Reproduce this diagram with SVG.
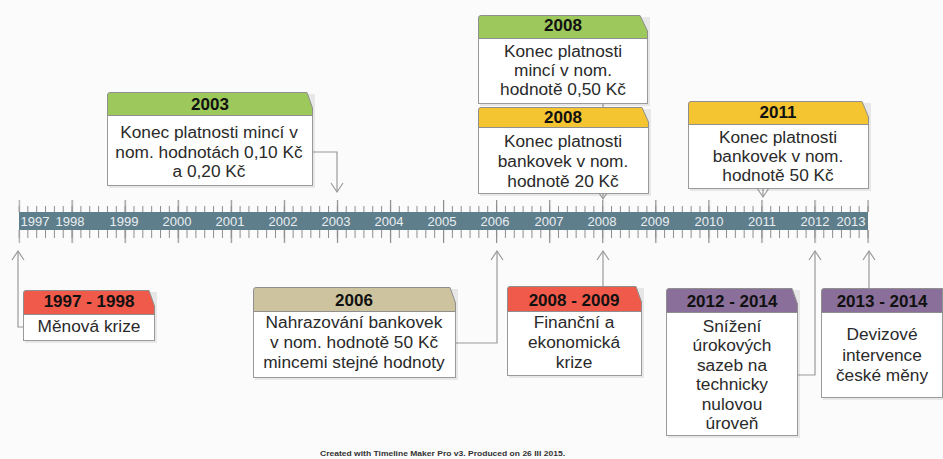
<svg xmlns="http://www.w3.org/2000/svg" width="943" height="459" viewBox="0 0 943 459">
<defs>
<style>
.hdr{stroke:#8f8f8f;stroke-width:1}
.body{fill:#ffffff;stroke:#9a9a9a;stroke-width:1}
.shadow{fill:#000;opacity:0.08}
.ht{font-family:"Liberation Sans",Arial,sans-serif;font-size:17px;font-weight:bold;fill:#111;text-anchor:middle}
.bt{font-family:"Liberation Sans",Arial,sans-serif;font-size:17.3px;fill:#2a2a2a;text-anchor:middle}
.yr{font-family:"Liberation Sans",Arial,sans-serif;font-size:13px;fill:#e9eef1;text-anchor:middle}
.conn{fill:none;stroke:#9a9a9a;stroke-width:1.2}
.green{fill:#9dc85b}
.yellow{fill:#f5c431}
.red{fill:#ef5a4b}
.tan{fill:#cdc49f}
.purple{fill:#8a6f9a}
</style>
<marker id="arr" viewBox="-10 -7 12 14" markerWidth="12" markerHeight="14" refX="0" refY="0" orient="auto" markerUnits="userSpaceOnUse">
<path d="M-9,-6 L0,0 L-9,6" fill="none" stroke="#9a9a9a" stroke-width="1.2"/>
</marker>
<pattern id="minor" x="18.5" y="0" width="8.84375" height="459" patternUnits="userSpaceOnUse">
<rect x="0" y="0" width="1" height="459" fill="#8c8c8c"/>
</pattern>
<pattern id="major" x="18.5" y="0" width="53.0625" height="459" patternUnits="userSpaceOnUse">
<rect x="0" y="0" width="1.2" height="459" fill="#8c8c8c"/>
</pattern>
</defs>
<rect x="0" y="0" width="943" height="459" fill="#fbfbfb"/>

<g id="timeline">
<rect x="18.5" y="206" width="851" height="6" fill="url(#minor)"/>
<rect x="18.5" y="230" width="851" height="8" fill="url(#minor)"/>
<rect x="18.5" y="200" width="851" height="12" fill="url(#major)"/>
<rect x="18.5" y="230" width="851" height="13" fill="url(#major)"/>
<rect x="19" y="212" width="849" height="18" fill="#5f7e8c"/>
<text class="yr" x="35" y="226">1997</text>
<text class="yr" x="70" y="226">1998</text>
<text class="yr" x="124" y="226">1999</text>
<text class="yr" x="177" y="226">2000</text>
<text class="yr" x="230" y="226">2001</text>
<text class="yr" x="283" y="226">2002</text>
<text class="yr" x="336" y="226">2003</text>
<text class="yr" x="389" y="226">2004</text>
<text class="yr" x="442" y="226">2005</text>
<text class="yr" x="495" y="226">2006</text>
<text class="yr" x="549" y="226">2007</text>
<text class="yr" x="602" y="226">2008</text>
<text class="yr" x="655" y="226">2009</text>
<text class="yr" x="709" y="226">2010</text>
<text class="yr" x="762" y="226">2011</text>
<text class="yr" x="815" y="226">2012</text>
<text class="yr" x="851" y="226">2013</text>
</g>

<g id="connectors">
<path class="conn" d="M312,152 H337 V192" marker-end="url(#arr)"/>
<path class="conn" d="M603,103 V199" marker-end="url(#arr)"/>
<path class="conn" d="M763,188 V197" marker-end="url(#arr)"/>
<path class="conn" d="M23,327 H18 V251" marker-end="url(#arr)"/>
<path class="conn" d="M455,343 H497 V251" marker-end="url(#arr)"/>
<path class="conn" d="M603,286 V251" marker-end="url(#arr)"/>
<path class="conn" d="M797,375 H815 V251" marker-end="url(#arr)"/>
<path class="conn" d="M869,288 V251" marker-end="url(#arr)"/>
</g>

<g id="n2003">
<rect class="shadow" x="109" y="94" width="206" height="94"/>
<rect class="body" x="107.5" y="115.5" width="205" height="70"/>
<path class="hdr green" d="M107.5,115.5 V95 Q107.5,92.5 110,92.5 H307 L312.5,108 V115.5 Z"/>
<text class="ht" x="210" y="110">2003</text>
<text class="bt" x="209" y="138">Konec platnosti mincí v</text>
<text class="bt" x="209" y="158">nom. hodnotách 0,10 Kč</text>
<text class="bt" x="209" y="177">a 0,20 Kč</text>
</g>

<g id="n2008a">
<rect class="shadow" x="480" y="17" width="170" height="89"/>
<rect class="body" x="478.5" y="38.5" width="169" height="65"/>
<path class="hdr green" d="M478.5,38.5 V18 Q478.5,15.5 481,15.5 H640 L647.5,31 V38.5 Z"/>
<text class="ht" x="563" y="31">2008</text>
<text class="bt" x="563" y="57">Konec platnosti</text>
<text class="bt" x="563" y="76">mincí v nom.</text>
<text class="bt" x="563" y="95">hodnotě 0,50 Kč</text>
</g>

<g id="n2008b">
<rect class="shadow" x="480" y="109" width="171" height="87"/>
<rect class="body" x="478.5" y="127.5" width="170" height="66"/>
<path class="hdr yellow" d="M478.5,127.5 V110 Q478.5,107.5 481,107.5 H642 L648.5,122 V127.5 Z"/>
<text class="ht" x="563" y="123">2008</text>
<text class="bt" x="563" y="147">Konec platnosti</text>
<text class="bt" x="563" y="167">bankovek v nom.</text>
<text class="bt" x="563" y="187">hodnotě 20 Kč</text>
</g>

<g id="n2011">
<rect class="shadow" x="690" y="103" width="181" height="88"/>
<rect class="body" x="688.5" y="124.5" width="180" height="64"/>
<path class="hdr yellow" d="M688.5,124.5 V104 Q688.5,101.5 691,101.5 H862 L868.5,117 V124.5 Z"/>
<text class="ht" x="778" y="118">2011</text>
<text class="bt" x="778" y="143">Konec platnosti</text>
<text class="bt" x="778" y="162">bankovek v nom.</text>
<text class="bt" x="778" y="181">hodnotě 50 Kč</text>
</g>

<g id="n1997">
<rect class="shadow" x="25" y="292" width="132" height="51"/>
<rect class="body" x="23.5" y="314.5" width="131" height="26"/>
<path class="hdr red" d="M23.5,314.5 V293 Q23.5,290.5 26,290.5 H149 L154.5,306 V314.5 Z"/>
<text class="ht" x="89" y="307">1997 - 1998</text>
<text class="bt" x="89" y="332">Měnová krize</text>
</g>

<g id="n2006">
<rect class="shadow" x="255" y="289" width="203" height="91"/>
<rect class="body" x="253.5" y="311.5" width="202" height="66"/>
<path class="hdr tan" d="M253.5,311.5 V290 Q253.5,287.5 256,287.5 H450 L455.5,303 V311.5 Z"/>
<text class="ht" x="354" y="306">2006</text>
<text class="bt" x="354" y="328">Nahrazování bankovek</text>
<text class="bt" x="354" y="348">v nom. hodnotě 50 Kč</text>
<text class="bt" x="354" y="368">mincemi stejné hodnoty</text>
</g>

<g id="n2008_2009">
<rect class="shadow" x="509" y="288" width="135" height="90"/>
<rect class="body" x="507.5" y="311.5" width="134" height="64"/>
<path class="hdr red" d="M507.5,311.5 V289 Q507.5,286.5 510,286.5 H636 L641.5,302 V311.5 Z"/>
<text class="ht" x="574" y="306">2008 - 2009</text>
<text class="bt" x="574" y="328">Finanční a</text>
<text class="bt" x="574" y="348">ekonomická</text>
<text class="bt" x="574" y="368">krize</text>
</g>

<g id="n2012_2014">
<rect class="shadow" x="668" y="290" width="132" height="148"/>
<rect class="body" x="666.5" y="312.5" width="131" height="123"/>
<path class="hdr purple" d="M666.5,312.5 V291 Q666.5,288.5 669,288.5 H792 L797.5,304 V312.5 Z"/>
<text class="ht" x="732" y="307">2012 - 2014</text>
<text class="bt" x="732" y="332">Snížení</text>
<text class="bt" x="732" y="351">úrokových</text>
<text class="bt" x="732" y="371">sazeb na</text>
<text class="bt" x="732" y="390">technicky</text>
<text class="bt" x="732" y="410">nulovou</text>
<text class="bt" x="732" y="429">úroveň</text>
</g>

<g id="n2013_2014">
<rect class="shadow" x="823" y="290" width="122" height="110"/>
<rect class="body" x="821.5" y="312.5" width="121" height="85"/>
<path class="hdr purple" d="M821.5,312.5 V291 Q821.5,288.5 824,288.5 H942.5 V312.5 Z"/>
<text class="ht" x="882" y="307">2013 - 2014</text>
<text class="bt" x="882" y="340">Devizové</text>
<text class="bt" x="882" y="361">intervence</text>
<text class="bt" x="882" y="381">české měny</text>
</g>

<g id="footer">
<text x="320" y="456" textLength="245" lengthAdjust="spacingAndGlyphs" style="font-family:'Liberation Sans',Arial,sans-serif;font-size:8px;font-weight:bold;fill:#333">Created with Timeline Maker Pro v3. Produced on 26 III 2015.</text>
</g>
</svg>
